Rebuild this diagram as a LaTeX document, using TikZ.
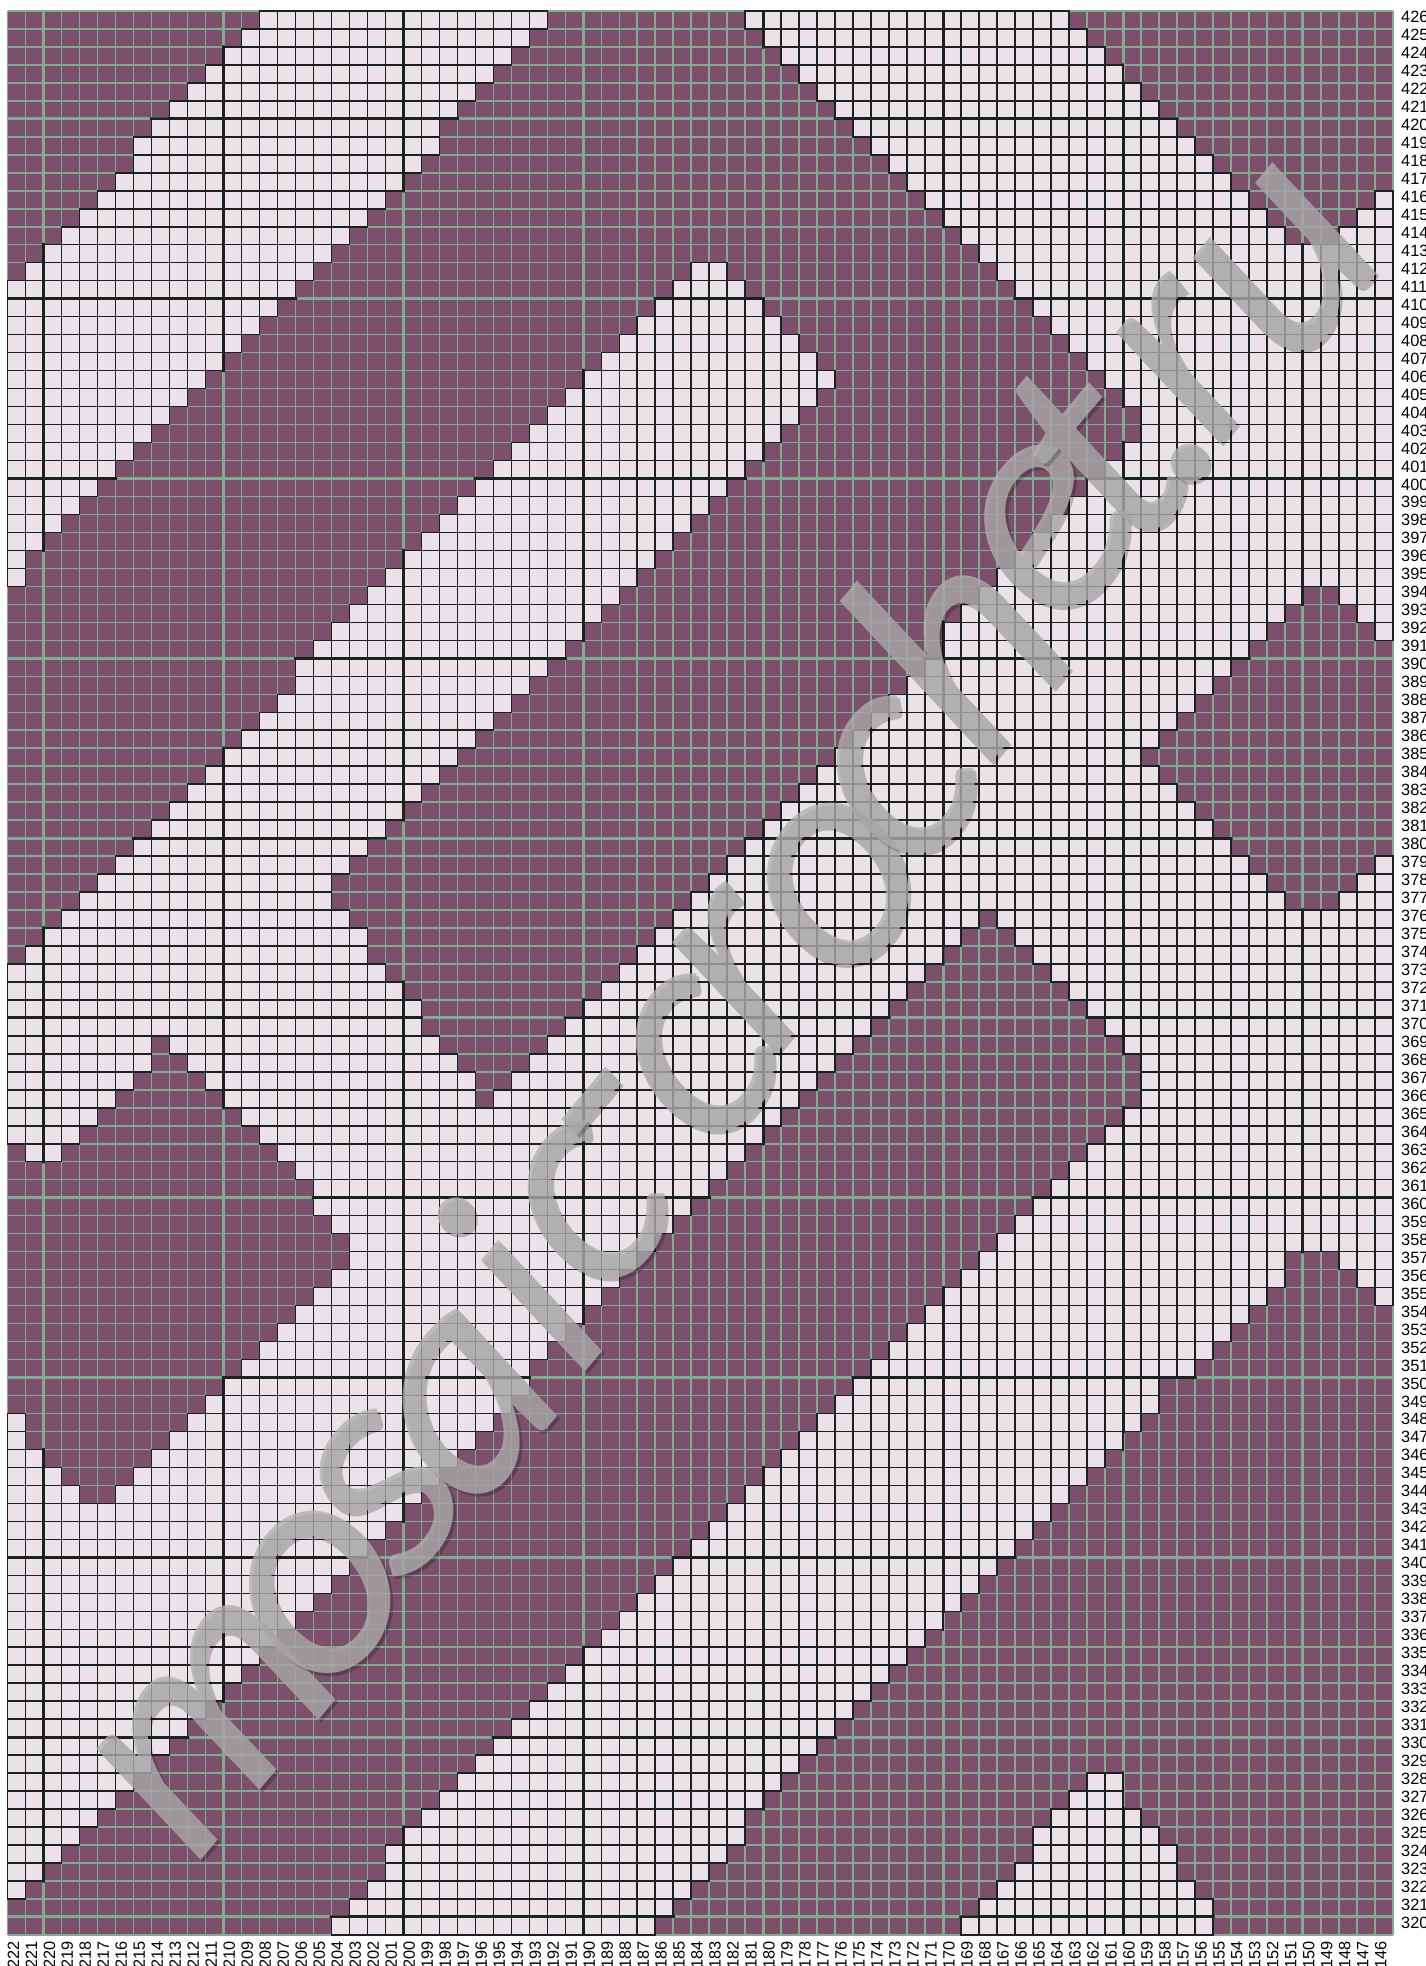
\documentclass[tikz,border=0pt]{standalone}
\usepackage{fontspec}
\setmainfont{Carlito}
\newfontfamily\labelfont{Liberation Sans}
\usetikzlibrary{positioning}
\definecolor{stitchdark}{HTML}{7D4F6B}
\definecolor{stitchlight}{HTML}{EBE1E9}
\definecolor{gridgreen}{HTML}{7EAC92}
\definecolor{gridblack}{HTML}{17231C}
\definecolor{markgray}{HTML}{B0B0B0}
\tikzset{
  thinline/.style   = {line width=1.4pt},
  heavyline/.style  = {line width=2.8pt},
  rowlab/.style     = {font=\labelfont\fontsize{15.5}{16}\selectfont, inner sep=0pt, anchor=mid west},
  collab/.style     = {font=\labelfont\fontsize{15.5}{16}\selectfont, inner sep=0pt, anchor=mid east, rotate=90},
  marklet/.style    = {font=\itshape\fontsize{300}{310}\selectfont, inner sep=0pt, rotate=50,
                       text=markgray, text opacity=0.78},
  markshade/.style  = {marklet, text=black, text opacity=0.22},
}
% light cells, row by row from the top: row/{first col/end col, ...}
\newcommand{\lightruns}{
  0/{14/30,41/59}, 1/{13/29,42/60}, 2/{12/28,43/61}, 3/{11/27,44/62}, 4/{10/26,45/63},
  5/{9/25,46/64}, 6/{8/24,47/65}, 7/{7/24,48/66}, 8/{7/23,49/67}, 9/{6/22,50/68},
  10/{5/21,51/69,76/77}, 11/{4/20,52/70,75/77}, 12/{3/19,53/71,74/77}, 13/{2/18,54/77},
  14/{1/17,38/40,55/77}, 15/{0/16,37/41,56/77}, 16/{0/15,36/42,57/77}, 17/{0/14,35/43,58/77},
  18/{0/13,34/44,59/77}, 19/{0/12,33/45,60/77}, 20/{0/11,32/46,61/77}, 21/{0/10,31/45,62/77},
  22/{0/9,30/44,63/77}, 23/{0/8,29/43,63/77}, 24/{0/7,28/42,62/77}, 25/{0/6,27/41,61/77},
  26/{0/5,26/40,60/77}, 27/{0/4,25/39,59/77}, 28/{0/3,24/38,58/77}, 29/{0/2,23/37,57/77},
  30/{0/1,22/36,56/77}, 31/{0/1,21/35,55/77}, 32/{20/34,54/72,74/77}, 33/{19/33,53/71,75/77},
  34/{18/32,52/70,76/77}, 35/{17/31,52/69}, 36/{16/30,51/68}, 37/{16/29,50/67},
  38/{15/28,49/66}, 39/{14/27,48/65}, 40/{13/26,47/64}, 41/{12/25,46/63}, 42/{11/24,45/64},
  43/{10/23,44/65}, 44/{9/22,43/66}, 45/{8/21,42/67}, 46/{7/20,41/68}, 47/{6/19,40/69,76/77},
  48/{5/18,39/70,75/77}, 49/{4/18,38/71,74/77}, 50/{3/19,37/54,55/77}, 51/{2/20,36/53,56/77},
  52/{1/20,35/52,57/77}, 53/{0/21,34/51,58/77}, 54/{0/22,33/50,59/77}, 55/{0/23,32/49,60/77},
  56/{0/23,31/48,61/77}, 57/{0/8,9/24,30/47,62/77}, 58/{0/8,10/25,29/46,63/77},
  59/{0/7,11/26,28/45,63/77}, 60/{0/6,12/26,27/44,63/77}, 61/{0/5,13/43,62/77},
  62/{0/4,14/42,61/77}, 63/{1/3,15/41,60/77}, 64/{16/40,59/77}, 65/{17/39,58/77},
  66/{17/38,57/77}, 67/{18/37,56/77}, 68/{19/36,55/77}, 69/{19/35,54/71,74/77},
  70/{18/34,53/71,75/77}, 71/{17/33,52/70,76/77}, 72/{16/32,51/69}, 73/{15/31,50/68},
  74/{14/30,49/67}, 75/{13/29,48/66}, 76/{12/29,47/64}, 77/{11/28,46/64},
  78/{0/1,10/27,45/63}, 79/{0/1,9/26,44/62}, 80/{0/2,8/25,43/61}, 81/{0/3,7/24,42/60},
  82/{0/4,6/23,41/59}, 83/{0/22,40/58}, 84/{0/21,39/57}, 85/{0/20,38/56}, 86/{0/19,37/55},
  87/{0/18,36/54}, 88/{0/17,35/53}, 89/{0/16,34/52}, 90/{0/15,33/51}, 91/{0/14,32/50},
  92/{0/13,31/49}, 93/{0/12,30/48}, 94/{0/11,29/47}, 95/{0/10,28/46}, 96/{0/9,27/45},
  97/{0/8,26/44}, 98/{0/7,25/43,60/62}, 99/{0/6,24/42,59/62}, 100/{0/5,23/41,58/63},
  101/{0/4,22/41,57/64}, 102/{0/3,21/40,57/65}, 103/{0/2,21/39,56/65}, 104/{0/1,20/38,55/66},
  105/{19/37,54/67}, 106/{18/36,53/67}}
\begin{document}
\begin{tikzpicture}[x=0.5997cm, y=-0.5993cm]
  \useasboundingbox[fill=white] (-0.417,-0.612) rectangle (78.79,108.73);

  % dark ground with its green grid
  \fill[stitchdark] (0,0) rectangle (77,107);
  \foreach \c in {0,...,77} \draw[thinline, gridgreen] (\c,0) -- (\c,107);
  \foreach \r in {0,...,107} \draw[thinline, gridgreen] (0,\r) -- (77,\r);
  \foreach \c in {2,12,...,72} \draw[heavyline, gridgreen] (\c,0) -- (\c,107);
  \foreach \r in {6,16,...,106} \draw[heavyline, gridgreen] (0,\r) -- (77,\r);

  % light cells with black edges
  \foreach \r/\runs in \lightruns {
    \foreach \ca/\cb in \runs {
      \draw[thinline, gridblack, fill=stitchlight] (\ca,\r) rectangle (\cb,\r+1);
      \foreach \c in {\ca,...,\cb} \draw[thinline, gridblack] (\c,\r) -- (\c,\r+1);
    }
  }

  % every tenth line turns black where it touches a light cell
  \begin{scope}
    \clip \foreach \r/\runs in \lightruns {\foreach \ca/\cb in \runs {
      (\ca-0.09,\r-0.09) rectangle (\cb+0.09,\r+1.09)}};
    \foreach \c in {2,12,...,72} \draw[heavyline, gridblack] (\c,0) -- (\c,107);
    \foreach \r in {6,16,...,106} \draw[heavyline, gridblack] (0,\r) -- (77,\r);
  \end{scope}

  % row and column numbers
  \foreach \r [evaluate=\r as \num using int(426-\r)] in {0,...,106}
    \node[rowlab] (row\num) at (77.45,\r+0.5) {\num};
  \foreach \c [evaluate=\c as \num using int(222-\c)] in {0,...,76}
    \node[collab] (col\num) at (\c+0.5,107.35) {\num};

  % the site name across the chart, letter by letter
  \begin{scope}[x=0.03333cm, y=-0.03333cm, shift={(-7.5,-11)}]
    \foreach \letr/\lx/\ly [count=\k] in {m/215/1725, o/321/1592, s/386/1493, a/468/1406,
        i/517/1285, c/590/1208, -/620/1128, c/698/1061, r/746/972, o/839/884, c/899/783,
        h/952/640, e/1051/530, t/1093/455, ./1195/458, r/1190/362, u/1287/265} {
      \node[markshade] (shade\k) at (\lx+3,\ly+3) {\letr};
      \node[marklet] (mark\k) at (\lx,\ly) {\letr};
    }
  \end{scope}
\end{tikzpicture}
\end{document}
